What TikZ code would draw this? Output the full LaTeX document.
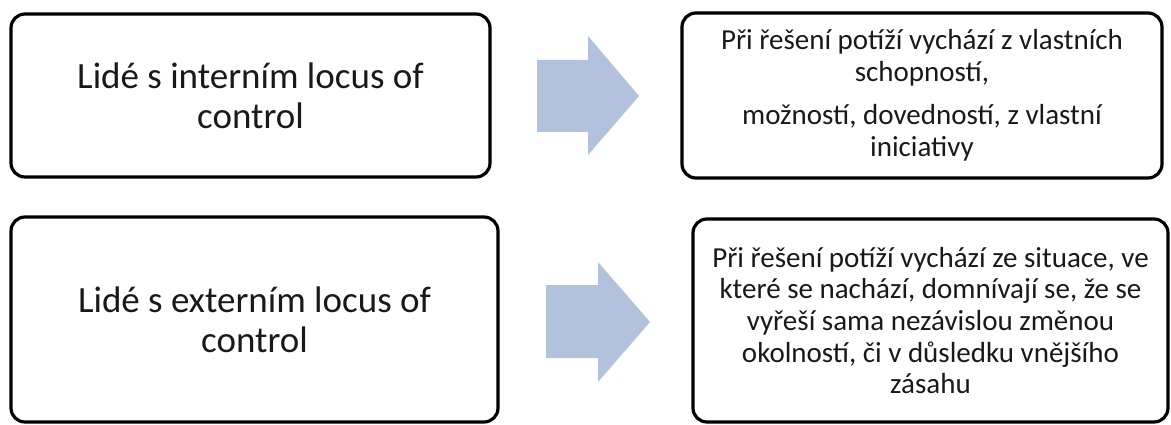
\documentclass[tikz,border=0pt]{standalone}
\usepackage{fontspec}
\setmainfont{Carlito}
\definecolor{arrowblue}{HTML}{B2C1DC}
\begin{document}
\begin{tikzpicture}[x=1pt,y=-1pt,
  box/.style={draw=black, line width=3.2pt, rounded corners=14pt, fill=white,
    inner sep=0pt, align=center, text=black!90},
  bigtext/.style={font=\fontsize{37}{40}\selectfont},
  smalltext/.style={font=\fontsize{29}{32.5}\selectfont},
  blockarrow/.style={fill=arrowblue, draw=none}]
\useasboundingbox (0,0) rectangle (1171,425);
\node[box, bigtext, minimum width=479pt, minimum height=163pt] (int) at (250.5,95.5)
  {Lidé s interním locus of\\control};
\node[box, bigtext, minimum width=487pt, minimum height=205pt] (ext) at (254.5,319.5)
  {Lidé s externím locus of\\control};
\node[box, smalltext, minimum width=480pt, minimum height=165pt] (intres) at (922,95.5)
  {Při řešení potíží vychází z vlastních\\schopností,\\[10pt]možností, dovedností, z vlastní\\iniciativy};
\node[box, font=\fontsize{29}{31.6}\selectfont, minimum width=475pt, minimum height=203pt] (extres) at (930.5,320.5)
  {Při řešení potíží vychází ze situace, ve\\které se nachází, domnívají se, že se\\vyřeší sama nezávislou změnou\\okolností, či v důsledku vnějšího\\zásahu};
\fill[blockarrow] (537,60) -- (588,60) -- (588,36) -- (639,96) -- (588,155) -- (588,132) -- (537,132) -- cycle;
\fill[blockarrow] (546,285) -- (598,285) -- (598,262) -- (650,322) -- (598,382) -- (598,358) -- (546,358) -- cycle;
\end{tikzpicture}
\end{document}
